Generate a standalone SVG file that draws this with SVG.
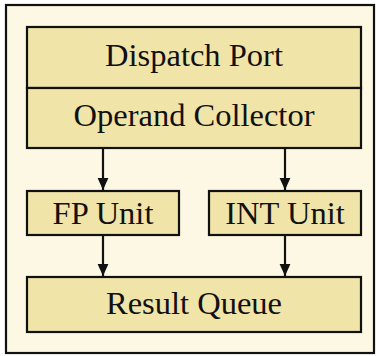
<svg xmlns="http://www.w3.org/2000/svg" width="382" height="356" viewBox="0 0 382 356">
<defs>
<style>
.box{fill:#f0e4a8;stroke:#111;stroke-width:2.2}
.lbl{font-family:"Liberation Serif","DejaVu Serif",serif;font-size:32.5px;fill:#111;text-anchor:middle}
.con{stroke:#111;stroke-width:2.2;fill:none}
</style>
<marker id="arr" viewBox="0 0 10 10" refX="10" refY="5" markerWidth="12" markerHeight="12" markerUnits="userSpaceOnUse" orient="auto">
<path d="M0,0.5 L10,5 L0,9.5 z" fill="#111"/>
</marker>
</defs>
<rect x="6" y="5" width="368" height="348" fill="#fcf8e3" stroke="#111" stroke-width="2.2"/>
<g id="dispatch">
<rect class="box" x="27" y="27" width="334" height="61"/>
<text class="lbl" x="194" y="66">Dispatch Port</text>
</g>
<g id="collector">
<rect class="box" x="27" y="88" width="334" height="60"/>
<text class="lbl" x="194" y="126">Operand Collector</text>
</g>
<g id="fp">
<rect class="box" x="27" y="191" width="152" height="44"/>
<text class="lbl" x="103" y="224">FP Unit</text>
</g>
<g id="int">
<rect class="box" x="209" y="191" width="152" height="44"/>
<text class="lbl" x="285" y="224">INT Unit</text>
</g>
<g id="result">
<rect class="box" x="27" y="277" width="334" height="55"/>
<text class="lbl" x="194" y="314">Result Queue</text>
</g>
<g id="connectors">
<line class="con" x1="103" y1="149" x2="103" y2="190" marker-end="url(#arr)"/>
<line class="con" x1="285" y1="149" x2="285" y2="190" marker-end="url(#arr)"/>
<line class="con" x1="103" y1="236" x2="103" y2="276" marker-end="url(#arr)"/>
<line class="con" x1="285" y1="236" x2="285" y2="276" marker-end="url(#arr)"/>
</g>
</svg>
